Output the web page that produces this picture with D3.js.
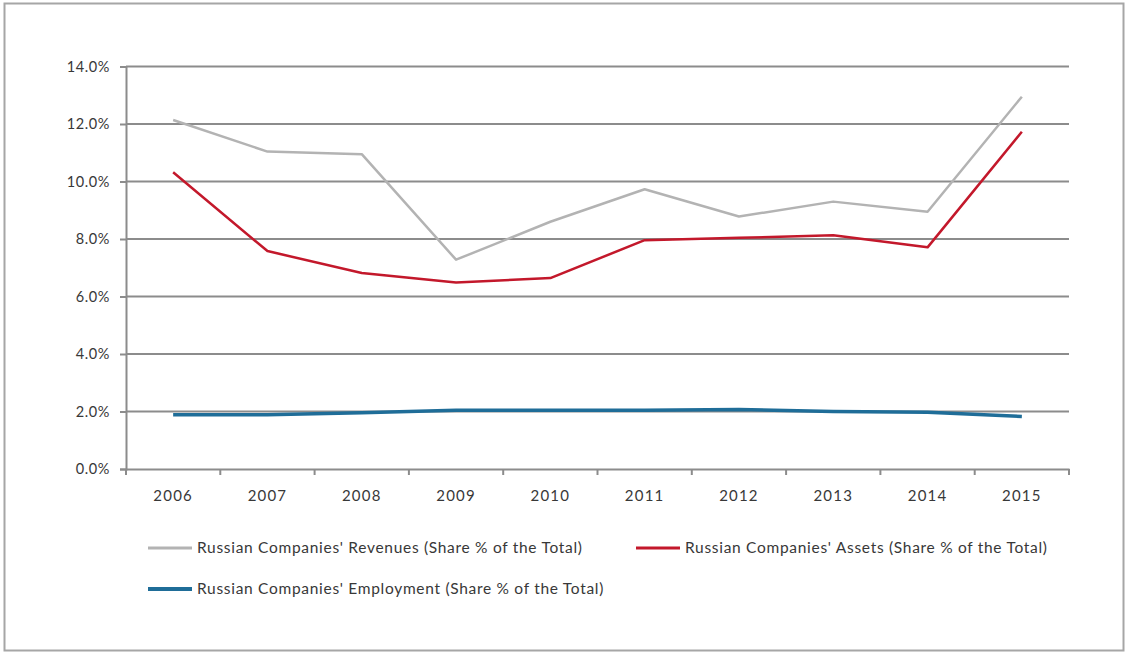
<!DOCTYPE html>
<html>
<head>
<meta charset="utf-8">
<script src="https://cdn.jsdelivr.net/npm/d3@7"></script>
<style>
  html, body { margin: 0; padding: 0; background: #fff; }
  svg { display: block; }
  text { font-family: Lato, "Open Sans", "DejaVu Sans", sans-serif; }
</style>
</head>
<body>
<svg id="chart" width="1128" height="653"></svg>
<script>
const years = ["2006","2007","2008","2009","2010","2011","2012","2013","2014","2015"];
const revenues = [12.14, 11.04, 10.95, 7.28, 8.60, 9.73, 8.78, 9.30, 8.95, 12.95];
const assets = [10.32, 7.58, 6.82, 6.49, 6.64, 7.96, 8.04, 8.13, 7.71, 11.73];
const employment = [1.89, 1.89, 1.96, 2.04, 2.04, 2.04, 2.07, 2.00, 1.97, 1.83];
const yTicks = [0, 2, 4, 6, 8, 10, 12, 14];
const seriesNames = [
  "Russian Companies' Revenues (Share % of the Total)",
  "Russian Companies' Assets (Share % of the Total)",
  "Russian Companies' Employment (Share % of the Total)"
];
const seriesColors = ["#b3b3b3", "#c3182b", "#1f6d98"];
const seriesWidths = [2.5, 2.5, 3.5];

(function () {
const svg = d3.select("#chart");
const FONT = "Lato, 'Open Sans', sans-serif";

// outer frame
svg.append("rect").attr("x", 4.5).attr("y", 3.5).attr("width", 1119).attr("height", 647)
  .attr("fill", "none").attr("stroke", "#a6a6a6").attr("stroke-width", 2);

const mLeft = 126, mRight = 1069, mTop = 66.5, mBottom = 469;
const x = d3.scaleBand().domain(years).range([mLeft, mRight]);
const y = d3.scaleLinear().domain([0, 14]).range([mBottom, mTop]);

// gridlines
svg.append("g").selectAll("line").data(yTicks.filter(d => d > 0)).join("line")
  .attr("x1", mLeft).attr("x2", mRight)
  .attr("y1", d => y(d)).attr("y2", d => y(d))
  .attr("stroke", "#8c8c8c").attr("stroke-width", 2);

// y axis
const yAxis = d3.axisLeft(y).tickValues(yTicks).tickFormat(d => d.toFixed(1) + "%").tickSize(6).tickPadding(10);
const gy = svg.append("g").attr("transform", `translate(${mLeft},0)`).call(yAxis);
gy.select(".domain").attr("stroke", "#8c8c8c").attr("stroke-width", 2);
gy.selectAll(".tick line").attr("stroke", "#8c8c8c").attr("stroke-width", 2);
gy.selectAll(".tick text").attr("font-size", 14.5).attr("fill", "#383838")
  .style("font-family", FONT).style("letter-spacing", "0.6px");

// x axis
const xAxis = d3.axisBottom(x).tickSizeOuter(0).tickSize(0).tickPadding(21);
const gx = svg.append("g").attr("transform", `translate(0,${mBottom})`).call(xAxis);
gx.select(".domain").attr("stroke", "#8c8c8c").attr("stroke-width", 2);
gx.selectAll(".tick text").attr("font-size", 15).attr("fill", "#383838")
  .style("font-family", FONT).style("letter-spacing", "1.2px");
// band boundary tick marks
const bounds = years.map(yr => x(yr)).concat([mRight]);
gx.append("g").selectAll("line").data(bounds).join("line")
  .attr("x1", d => d).attr("x2", d => d).attr("y1", 0).attr("y2", 6)
  .attr("stroke", "#8c8c8c").attr("stroke-width", 2);

const line = d3.line().x((d, i) => x(years[i]) + x.bandwidth() / 2).y(d => y(d));

[revenues, assets, employment].forEach((s, i) => {
  svg.append("path").datum(s).attr("d", line).attr("fill", "none")
    .attr("stroke", seriesColors[i]).attr("stroke-width", seriesWidths[i])
    .attr("stroke-linejoin", "round");
});

// legend
const legendPos = [[148, 548], [636, 548], [148, 589]];
legendPos.forEach((p, i) => {
  const g = svg.append("g").attr("transform", `translate(${p[0]},${p[1]})`);
  g.append("line").attr("x1", 0).attr("x2", 44).attr("y1", 0).attr("y2", 0)
    .attr("stroke", seriesColors[i]).attr("stroke-width", seriesWidths[i] + 0.5);
  g.append("text").attr("x", 49).attr("y", 0).attr("dy", "0.35em")
    .attr("font-size", 15.5).attr("fill", "#383838").style("font-family", FONT)
    .style("letter-spacing", "0.7px")
    .text(seriesNames[i]);
});
})();
</script>
</body>
</html>
